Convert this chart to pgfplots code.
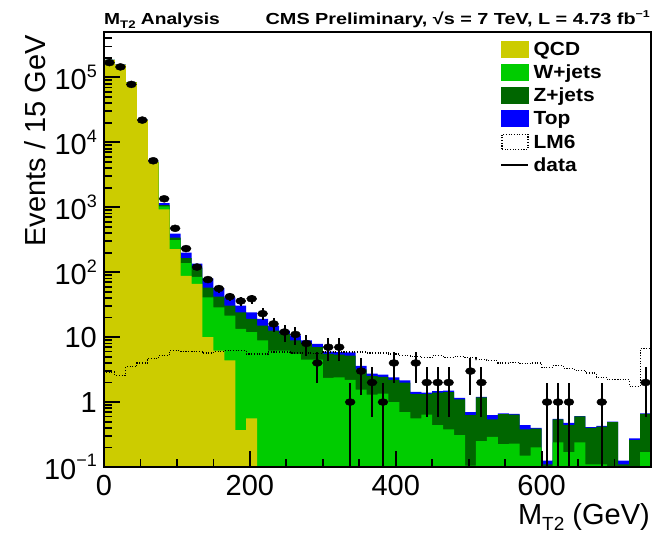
\documentclass[border=0pt]{standalone}
\usepackage{pgfplots}
\usepackage{pgfplotstable}
\pgfplotsset{compat=1.18}
\usepackage{fontspec}
\usepackage{graphicx}
\setmainfont{Liberation Sans}

\definecolor{qcd}{RGB}{204,204,0}
\definecolor{wjets}{RGB}{0,204,0}
\definecolor{zjets}{RGB}{0,102,0}
\definecolor{topc}{RGB}{0,0,255}

\newcommand{\tpow}[1]{10\raisebox{0.42em}{\fontsize{18bp}{18bp}\selectfont #1}}

% Stacked background per 15 GeV bin (lower bin edge), cumulative:
% qcd = QCD, w = QCD+W, z = QCD+W+Z, t = QCD+W+Z+Top; lm = LM6 signal.
% First and last rows (0.001) take each outline down below the axis floor.
\pgfplotstableread{
x    qcd     w       z       t       lm
0    0.001   0.001   0.001   0.001   0.001
0    185000  185500  185700  186000  2.9
15   156000  156300  156500  157000  2.6
30   84000   84200   84300   84500   3.5
45   22000   22100   22200   22300   4.0
60   4950    5000    5020    5050    4.7
75   929     1033    1082    1160    5.2
90   226     311     340     393     6.2
105  88      138     164     200     6.0
120  66      85      118     136     6.0
135  10      41      58      80      5.7
150  6.2     28.7    42      57      6.0
165  4.4     21.4    30.5    41      6.2
180  0.37    13.4    24.1    30.5    6.2
195  0.56    11.9    19.1    24.1    5.5
210  0.001   8.9     15.1    19.1    5.5
225  0.001   6.2     12.6    15.1    5.9
240  0.001   6.2     11.2    12.6    5.9
255  0.001   5.5     8.9     10.6    5.7
270  0.001   4.5     7.9     8.9     5.7
285  0.001   4.5     7.0     7.9     5.6
300  0.001   2.35    5.5     6.0     5.9
315  0.001   2.4     5.4     5.9     5.9
330  0.001   2.2     5.2     5.8     5.9
345  0.001   1.55    3.2     3.6     5.9
360  0.001   1.3     2.5     2.75    5.7
375  0.001   1.35    2.45    2.65    5.7
390  0.001   1.0     2.2     2.4     5.5
405  0.001   0.7     2.0     2.15    5.2
420  0.001   0.56    1.32    1.43    5.0
435  0.001   0.64    1.32    1.40    4.8
450  0.001   0.44    1.4     1.48    5.2
465  0.001   0.38    1.42    1.5     4.9
480  0.001   0.31    1.1     1.16    5.0
495  0.001   0.105   0.63    0.70    4.8
510  0.001   0.25    1.18    1.2     4.5
525  0.001   0.29    0.54    0.63    4.3
540  0.001   0.225   0.65    0.67    4.0
555  0.001   0.23    0.64    0.66    4.1
570  0.001   0.15    0.38    0.44    3.9
585  0.001   0.2     0.39    0.40    4.0
600  0.001   0.001   0.11    0.125   3.4
615  0.001   0.24    0.54    0.55    3.6
630  0.001   0.17    0.44    0.48    3.3
645  0.001   0.24    0.60    0.61    3.1
660  0.001   0.11    0.40    0.41    2.8
675  0.001   0.11    0.42    0.43    2.4
690  0.001   0.001   0.49    0.50    2.2
705  0.001   0.001   0.11    0.125   2.2
720  0.001   0.001   0.26    0.275   1.75
735  0.001   0.17    0.66    0.67    6.6
750  0.001   0.17    0.66    0.67    6.6
750  0.001   0.001   0.001   0.001   0.001
}\stack

% Observed events per bin centre with Poisson errors
\pgfplotstableread{
x      n       ep     em
7.5    169000  411    411
22.5   145000  381    381
37.5   78000   279    279
52.5   22000   148    148
67.5   5200    72     72
82.5   1350    37     37
97.5   474     22     22
112.5  231     15     15
127.5  120     11     11
142.5  77      8.8    8.8
157.5  56      7.5    7.5
172.5  42      6.5    6.5
187.5  36      6      6
202.5  39      6.2    6.2
217.5  23      4.8    4.8
232.5  16      4      4
247.5  12      3.5    3.5
262.5  11      3.3    3.3
277.5  8       2.83   2.83
292.5  4       2      2
307.5  7       2.65   2.65
322.5  7       2.65   2.65
337.5  1       1      0.999
352.5  3       1.73   1.73
367.5  2       1.41   1.41
382.5  1       1      0.999
397.5  4       2      2
427.5  4       2      2
442.5  2       1.41   1.41
457.5  2       1.41   1.41
472.5  2       1.41   1.41
502.5  3       1.73   1.73
517.5  2       1.41   1.41
607.5  1       1      0.999
622.5  1       1      0.999
637.5  1       1      0.999
682.5  1       1      0.999
742.5  2       1.41   1.41
}\data

\begin{document}
\begin{tikzpicture}
\begin{axis}[
  name=ax,
  width=547bp, height=435bp, scale only axis,
  xmin=0, xmax=750,
  ymode=log, ymin=0.1, ymax=5e5,
  xtick={0,200,400,600}, xticklabels={0,200,400,600},
  minor xtick={50,100,150,250,300,350,450,500,550,650,700},
  ytick={0.1,1,10,100,1000,10000,100000},
  yticklabels={\tpow{−1},1,10,\tpow{2},\tpow{3},\tpow{4},\tpow{5}},
  minor ytick={0.2,0.3,0.4,0.5,0.6,0.7,0.8,0.9,
    2,3,4,5,6,7,8,9,20,30,40,50,60,70,80,90,
    200,300,400,500,600,700,800,900,
    2000,3000,4000,5000,6000,7000,8000,9000,
    20000,30000,40000,50000,60000,70000,80000,90000,
    200000,300000,400000,500000},
  tick pos=left, tick align=inside,
  major tick length=16bp, minor tick length=8bp,
  every tick/.style={black, line width=1.8bp},
  axis line style={line width=2.5bp},
  ticklabel style={font=\fontsize{29bp}{29bp}\selectfont, inner sep=0pt},
  xticklabel style={yshift=-8bp},
  yticklabel style={xshift=-7bp},
  /pgf/number format/assume math mode=true,
  axis on top,
  legend style={at={(0.7252,0.9876)}, anchor=north west, draw=none, fill=none,
    inner sep=0pt, outer sep=0pt, row sep=0pt, column sep=4.4bp,
    font=\bfseries\fontsize{19bp}{19bp}\selectfont,
    nodes={inner sep=0pt, text height=18bp, text depth=5.2bp}},
  legend cell align=left,
]
\addlegendimage{legend image code/.code={\fill[qcd] (0bp,-8bp) rectangle (27bp,8bp);}}
\addlegendentry{\scalebox{1.1}[1]{QCD}}
\addlegendimage{legend image code/.code={\fill[wjets] (0bp,-8bp) rectangle (27bp,8bp);}}
\addlegendentry{\scalebox{1.1}[1]{W+jets}}
\addlegendimage{legend image code/.code={\fill[zjets] (0bp,-8bp) rectangle (27bp,8bp);}}
\addlegendentry{\scalebox{1.1}[1]{Z+jets}}
\addlegendimage{legend image code/.code={\fill[topc] (0bp,-8bp) rectangle (27bp,8bp);}}
\addlegendentry{\scalebox{1.1}[1]{Top}}
\addlegendimage{legend image code/.code={\draw[black, line width=1.1bp, dash pattern=on 1.1bp off 1.6bp] (0.5bp,-7.5bp) rectangle (26.5bp,7.5bp);}}
\addlegendentry{\scalebox{1.1}[1]{LM6}}
\addlegendimage{legend image code/.code={\draw[black, line width=1.6bp] (0bp,0bp) -- (27bp,0bp);}}
\addlegendentry{\scalebox{1.1}[1]{data}}

% stacked backgrounds, drawn from the full stack down to QCD alone
\addplot[const plot, fill=topc, draw=none, forget plot] table[x=x, y=t] {\stack};
\addplot[const plot, fill=zjets, draw=none, forget plot] table[x=x, y=z] {\stack};
\addplot[const plot, fill=wjets, draw=none, forget plot] table[x=x, y=w] {\stack};
\addplot[const plot, fill=qcd, draw=none, forget plot] table[x=x, y=qcd] {\stack};

% LM6 signal outline
\addplot[const plot, black, line width=1.1bp, dash pattern=on 1.1bp off 1.6bp, forget plot]
  table[x=x, y=lm] {\stack};

% data
\addplot[forget plot, only marks, mark=*, mark size=5bp, mark options={yscale=0.7, fill=black, draw=black},
  error bars/.cd, y dir=both, y explicit, error mark=none,
  error bar style={black, line width=2bp}]
  table[x=x, y=n, y error plus=ep, y error minus=em] {\data};
\end{axis}

\node[anchor=base west, inner sep=0pt, font=\bfseries\fontsize{16bp}{16bp}\selectfont]
  at ([yshift=7bp]ax.north west)
  {\scalebox{1.2}[1]{M\raisebox{-0.25em}{\fontsize{11bp}{11bp}\selectfont T2} Analysis}};
\node[anchor=base east, inner sep=0pt, font=\bfseries\fontsize{16bp}{16bp}\selectfont]
  at ([xshift=-1bp, yshift=7bp]ax.north east)
  {\scalebox{1.24}[1]{CMS Preliminary, √s = 7 TeV, L = 4.73 fb\raisebox{0.45em}{\fontsize{10bp}{10bp}\selectfont −1}}};
\node[anchor=base east, inner sep=0pt, font=\fontsize{29bp}{29bp}\selectfont]
  at ([xshift=-1bp, yshift=-57bp]ax.south east)
  {M\raisebox{-0.22em}{\fontsize{19bp}{19bp}\selectfont T2} (GeV)};
\node[anchor=base east, rotate=90, inner sep=0pt, font=\fontsize{29bp}{29bp}\selectfont]
  at ([xshift=-58bp, yshift=-3bp]ax.north west)
  {Events / 15 GeV};

\pgfresetboundingbox
\path ([xshift=-104bp, yshift=-68bp]ax.south west) rectangle ([xshift=1bp, yshift=32bp]ax.north east);
\end{tikzpicture}
\end{document}
